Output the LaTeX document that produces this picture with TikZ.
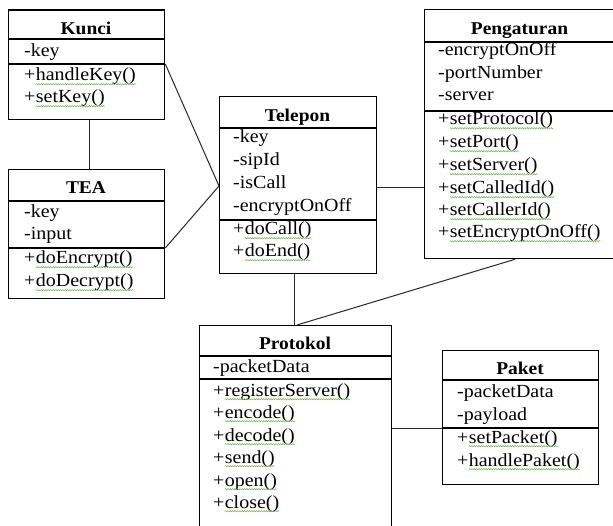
\documentclass[tikz,border=0pt]{standalone}
\usepackage{fontspec}
\setmainfont{Liberation Serif}[FakeStretch=1.08]
\usetikzlibrary{decorations.pathmorphing}
\definecolor{squigc}{RGB}{110,190,80}
\definecolor{linec}{RGB}{40,40,40}
\newcommand\bodysize{\fontsize{18.5}{22}\selectfont}
\newcommand\titlesize{\fontsize{18}{21}\selectfont}
\newcommand\meth[3]{%
  \node[txt] (#1p) at (#2) {+};
  \node[txt] (#1) at (#1p.base east) {#3};
  \draw[squig] ([yshift=-3.2pt]#1.base west) -- ([yshift=-3.2pt]#1.base east);}
\begin{document}
\begin{tikzpicture}[x=1pt,y=-1pt,
  box/.style={draw=black, line width=1.3pt, anchor=north west, inner sep=0pt},
  div/.style={draw=black, line width=1.1pt},
  conn/.style={draw=linec, line width=1pt},
  txt/.style={anchor=base west, inner sep=0pt, font=\bodysize},
  ttl/.style={anchor=base, inner sep=0pt, font=\titlesize\bfseries},
  squig/.style={draw=squigc, line width=0.55pt, decorate,
    decoration={snake, amplitude=0.6pt, segment length=2.4pt}}]
\useasboundingbox (0,0) rectangle (613,526);
\fill[white] (0,0) rectangle (613,526);

% ---- Kunci
\node[box, minimum width=156pt, minimum height=109.5pt] (kunci) at (8,9.5) {};
\draw[div] (8,39) -- (164,39);
\draw[div] (8,64) -- (164,64);
\node[ttl] (kunciT) at (86,35) {Kunci};
\node[txt] (kunciA1) at (24,57) {-key};
\meth{kunciM1}{24,81}{handleKey()}
\meth{kunciM2}{24,103}{setKey()}

% ---- TEA
\node[box, minimum width=156pt, minimum height=129pt] (tea) at (8,169) {};
\draw[div] (8,201) -- (164,201);
\draw[div] (8,248) -- (164,248);
\node[ttl] (teaT) at (86,194) {TEA};
\node[txt] (teaA1) at (24,218) {-key};
\node[txt] (teaA2) at (24,240) {-input};
\meth{teaM1}{24,264}{doEncrypt()}
\meth{teaM2}{24,287}{doDecrypt()}

% ---- Telepon
\node[box, minimum width=157pt, minimum height=177pt] (telepon) at (219,96) {};
\draw[div] (219,128) -- (376,128);
\draw[div] (219,220) -- (376,220);
\node[ttl] (teleponT) at (297.5,122) {Telepon};
\node[txt] (telA1) at (233,143) {-key};
\node[txt] (telA2) at (233,166) {-sipId};
\node[txt] (telA3) at (233,189) {-isCall};
\node[txt] (telA4) at (233,212) {-encryptOnOff};
\meth{telM1}{233,235}{doCall()}
\meth{telM2}{233,257}{doEnd()}

% ---- Pengaturan
\node[box, minimum width=191pt, minimum height=249pt] (peng) at (424,9) {};
\draw[div] (424,42) -- (615,42);
\draw[div] (424,111) -- (615,111);
\node[ttl] (pengT) at (519.5,35) {Pengaturan};
\node[txt] (pengA1) at (438,56) {-encryptOnOff};
\node[txt] (pengA2) at (438,79) {-portNumber};
\node[txt] (pengA3) at (438,101) {-server};
\meth{pengM1}{438,125}{setProtocol()}
\meth{pengM2}{438,148}{setPort()}
\meth{pengM3}{438,171}{setServer()}
\meth{pengM4}{438,194}{setCalledId()}
\meth{pengM5}{438,216}{setCallerId()}
\meth{pengM6}{438,238}{setEncryptOnOff()}

% ---- Protokol
\node[box, minimum width=192pt, minimum height=206pt] (protokol) at (199,325) {};
\draw[div] (199,356) -- (391,356);
\draw[div] (199,379) -- (391,379);
\node[ttl] (protT) at (295,350) {Protokol};
\node[txt] (protA1) at (213,373) {-packetData};
\meth{protM1}{213,396}{registerServer()}
\meth{protM2}{213,418}{encode()}
\meth{protM3}{213,441}{decode()}
\meth{protM4}{213,463}{send()}
\meth{protM5}{213,486}{open()}
\meth{protM6}{213,508}{close()}

% ---- Paket
\node[box, minimum width=156pt, minimum height=134pt] (paket) at (442,350) {};
\draw[div] (442,380) -- (598,380);
\draw[div] (442,428) -- (598,428);
\node[ttl] (paketT) at (520,375) {Paket};
\node[txt] (paketA1) at (457,398) {-packetData};
\node[txt] (paketA2) at (457,420) {-payload};
\meth{paketM1}{457,443}{setPacket()}
\meth{paketM2}{457,466}{handlePaket()}

% ---- connectors
\draw[conn] (kunci.east |- 0,64) -- (telepon.west |- 0,186);
\draw[conn] (tea.east |- 0,248) -- (telepon.west |- 0,186);
\draw[conn] (kunci.south -| 89,0) -- (tea.north -| 89,0);
\draw[conn] (telepon.east |- 0,188) -- (peng.west |- 0,188);
\draw[conn] (telepon.south -| 294,0) -- (protokol.north -| 294,0);
\draw[conn] (peng.south -| 515,0) -- (protokol.north -| 297,0);
\draw[conn] (protokol.east |- 0,428) -- (paket.west |- 0,428);
\end{tikzpicture}
\end{document}
